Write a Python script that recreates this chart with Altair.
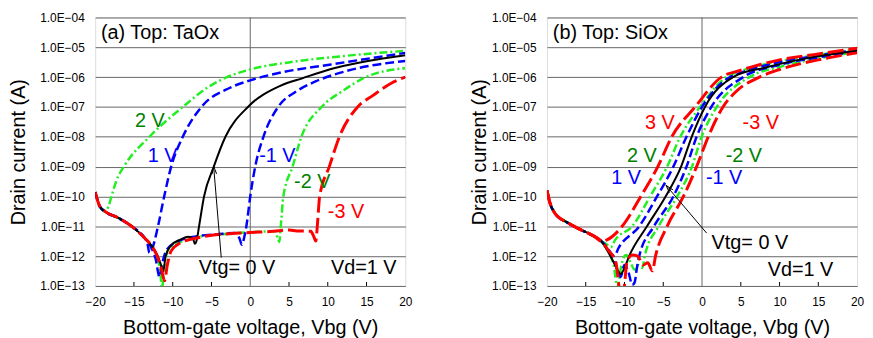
import altair as alt
import pandas as pd

# ---------------- Panel (a): Top TaOx  (Vbg in V, Id in A) ----------------
A_P2_V = [-20, -19.4, -18.7, -18.3, -17.9, -17.25, -16.3, -13.0, -8.7, -5.5, -3.0, 0, 6, 12.4, 20]
A_P2_I = [1.4e-10, 4.6e-11, 3.1e-11, 4.5e-11, 1.0e-10, 3.5e-10, 1e-9, 1e-8, 1e-7, 4.5e-7, 1e-6, 1.8e-6, 3.4e-6, 5.2e-6, 7.6e-6]

A_P1_V = [-20, -19.4, -18.7, -17, -15.3, -13.6, -13.3, -13.0, -12.55, -11.9, -11.1, -10.2, -8.7, -6.3, -2.6, 0, 3.8, 10.2, 20]
A_P1_I = [1.4e-10, 4.6e-11, 3.1e-11, 1.9e-11, 1.0e-11, 4.0e-12, 3e-12, 1.3e-12, 2.1e-12, 1e-11, 1e-10, 1e-9, 1e-8, 1e-7, 4.4e-7, 7.8e-7, 1.4e-6, 2.6e-6, 6.5e-6]

A_0_V = [-20, -19.4, -18.7, -17, -15.3, -13.6, -12.6, -12, -11.5, -11.25, -10.9, -10.2, -9, -8, -7.4, -7.15, -6.9, -6.6, -5.96, -4.7, -3.2, -0.3, 3.8, 6.8, 10.2, 15, 20]
A_0_I = [1.4e-10, 4.6e-11, 3.1e-11, 1.9e-11, 1.0e-11, 4.0e-12, 2e-12, 1.1e-12, 5e-13, 3e-13, 1e-12, 2.3e-12, 3.6e-12, 4.5e-12, 4e-12, 2.6e-12, 3.5e-12, 1e-11, 1e-10, 1e-9, 1e-8, 1e-7, 5e-7, 9.3e-7, 1.8e-6, 3.4e-6, 5.4e-6]

A_M1_V = [-20, -19.4, -18.7, -17, -15.3, -13.6, -12.8, -12.2, -11.7, -11.4, -10.8, -9.5, -7, -4, -2, -1.4, -1.07, -0.8, -0.5, 0, 0.64, 1.7, 3.6, 6, 8.5, 12.4, 20]
A_M1_I = [1.4e-10, 4.6e-11, 3.1e-11, 1.9e-11, 1.0e-11, 4.0e-12, 2e-12, 8e-13, 2e-13, 5e-13, 1.6e-12, 3e-12, 4.6e-12, 5.5e-12, 6e-12, 4e-12, 2.4e-12, 4e-12, 1e-11, 1e-10, 1e-9, 1e-8, 1e-7, 3.4e-7, 7.3e-7, 1.6e-6, 3.5e-6]

A_M2_V = [-20, -19.4, -18.7, -17, -15.3, -13.6, -12.6, -12, -11.6, -11.4, -11.1, -10.6, -9, -7, -4, 0, 3.2, 3.55, 3.75, 4.0, 4.27, 5.46, 6.6, 9.2, 11.9, 14.9, 20]
A_M2_I = [1.4e-10, 4.6e-11, 3.1e-11, 1.9e-11, 1.0e-11, 4.0e-12, 2e-12, 9e-13, 3e-13, 8e-14, 4e-13, 1.6e-12, 3e-12, 4.3e-12, 5.3e-12, 6.3e-12, 6.8e-12, 4e-12, 3e-12, 1.6e-11, 1e-10, 1e-9, 1e-8, 1e-7, 3.4e-7, 1e-6, 2e-6]

A_M3_V = [-20, -19.4, -18.7, -17, -15.3, -13.6, -12.6, -12, -11.5, -11.05, -10.7, -10.2, -9, -7, -5, -2, 0, 3, 5, 6, 7.8, 8.2, 8.45, 8.7, 8.95, 10.2, 11.5, 13.85, 15.8, 18.3, 20]
A_M3_I = [1.4e-10, 4.6e-11, 3.1e-11, 1.9e-11, 1.0e-11, 4.0e-12, 2e-12, 1e-12, 4e-13, 1.5e-13, 5e-13, 1.5e-12, 2.8e-12, 4e-12, 5e-12, 5.8e-12, 6.2e-12, 6.8e-12, 7.5e-12, 7e-12, 6.8e-12, 4.5e-12, 3.2e-12, 1.5e-11, 1e-10, 1e-9, 1e-8, 1e-7, 2.4e-7, 6.5e-7, 1e-6]

# ---------------- Panel (b): Top SiOx ----------------
B_COMMON_V = [-20, -19.6, -19, -17.3, -15.6, -13.9, -13.0]
B_COMMON_I = [1.6e-10, 5.9e-11, 2.8e-11, 1.3e-11, 7.6e-12, 4.6e-12, 3.2e-12]

B_P3_V = [-12.2, -10.3, -7.9, -5.7, -3.9, -0.9, 2.5, 5, 7.4, 10, 15, 20]
B_P3_I = [3.6e-12, 1e-11, 1e-10, 1e-9, 1e-8, 1e-7, 1e-6, 1.7e-6, 2.6e-6, 3.8e-6, 6e-6, 9.3e-6]

B_P2_V = [-12.4, -11.75, -11.2, -9.0, -6.7, -4.5, -2.8, -0.26, 3.1, 5, 10, 15, 20]
B_P2_I = [2.6e-12, 2e-12, 3.5e-12, 1e-11, 1e-10, 1e-9, 1e-8, 1e-7, 1e-6, 1.6e-6, 3.4e-6, 5.6e-6, 8.6e-6]

B_P1_V = [-12.3, -11.7, -11.3, -10.8, -8.1, -5.8, -3.7, -2.0, 0, 3.6, 5, 10, 15, 20]
B_P1_I = [2e-12, 1.2e-12, 1e-12, 1.8e-12, 1e-11, 1e-10, 1e-9, 1e-8, 1e-7, 1e-6, 1.4e-6, 3.2e-6, 5.3e-6, 8.2e-6]

B_0_V = [-12.2, -11.5, -10.9, -10.5, -10.1, -9.4, -7.1, -4.7, -2.7, -1.33, 0.38, 4.0, 8.2, 14, 20]
B_0_I = [1.5e-12, 7e-13, 3.5e-13, 2.5e-13, 3.5e-13, 1e-12, 1e-11, 1e-10, 1e-9, 1e-8, 1e-7, 1e-6, 2.1e-6, 4.5e-6, 7.6e-6]

B_M1_V = [-12.3, -11.6, -11.0, -10.5, -10.0, -9.5, -9.0, -8.7, -8.4, -8.1, -6.2, -3.7, -2.0, -0.7, 1.2, 5.3, 10, 15, 20]
B_M1_I = [2e-12, 1e-12, 4e-13, 2e-13, 5e-13, 3e-13, 1.1e-13, 1.3e-13, 4e-13, 1e-12, 1e-11, 1e-10, 1e-9, 1e-8, 1e-7, 1e-6, 2.6e-6, 4.6e-6, 7.3e-6]

B_M2_V = [-12.2, -11.4, -10.9, -10.4, -9.8, -9.2, -8.7, -8.2, -7.7, -7.4, -5.6, -3.2, -1.3, -0.05, 1.9, 6.1, 10, 15, 20]
B_M2_I = [1.6e-12, 5e-13, 9e-14, 5e-13, 1.1e-12, 6e-13, 3.5e-13, 5e-13, 4e-13, 1e-12, 1e-11, 1e-10, 1e-9, 1e-8, 1e-7, 1e-6, 2.2e-6, 4.2e-6, 7e-6]

B_M3_V = [-12.1, -11.1, -10.6, -10.1, -9.7, -9.0, -8.3, -7.6, -7.0, -6.4, -6.0, -4.5, -2.4, -0.7, 0.8, 2.7, 4.5, 7.4, 10, 15, 20]
B_M3_I = [1.6e-12, 6e-13, 8e-14, 8e-14, 6e-13, 1.1e-12, 1e-12, 5e-13, 6e-13, 3.2e-13, 1e-12, 1e-11, 1e-10, 1e-9, 1e-8, 1e-7, 3.5e-7, 1e-6, 1.8e-6, 3.8e-6, 6.5e-6]

# ---------------- annotations ----------------
A_LABEL_TEXT = ["2 V", "1 V", "-1 V", "-2 V", "-3 V", "Vtg= 0 V", "Vd=1 V"]
A_LABEL_COLOR = ["#008000", "#0000ff", "#0000ff", "#008000", "#ff0000", "#000000", "#000000"]
A_LABEL_V = [-12.95, -11.3, 3.5, 8.0, 12.35, -1.7, 14.65]
A_LABEL_I = [3.5e-8, 2.3e-9, 2.3e-9, 3.0e-10, 3.0e-11, 3.9e-13, 3.9e-13]

B_LABEL_TEXT = ["3 V", "-3 V", "2 V", "-2 V", "1 V", "-1 V", "Vtg= 0 V", "Vd=1 V"]
B_LABEL_COLOR = ["#ff0000", "#ff0000", "#008000", "#008000", "#0000ff", "#0000ff", "#000000", "#000000"]
B_LABEL_V = [-5.45, 7.57, -7.75, 5.4, -9.8, 2.85, 6.17, 12.7]
B_LABEL_I = [2.95e-8, 2.95e-8, 2.3e-9, 2.3e-9, 4.0e-10, 4.0e-10, 2.8e-12, 3.5e-13]

PANEL_TITLES = ["(a) Top: TaOx", "(b) Top: SiOx"]
PANEL_TITLE_V = [-19.25, -19.25]
PANEL_TITLE_I = [3.1e-5, 3.1e-5]

# arrows: tail (V, I) -> head (V2, I2)
A_ARROW = [-3.74, 8.9e-13, -4.68, 7.6e-10]
B_ARROW = [0.6, 5.9e-12, -4.3, 1.86e-10]

X_TICKS = [-20, -15, -10, -5, 0, 5, 10, 15, 20]
X_INNER_TICKS = [-15, -10, -5, 5, 10, 15]
Y_TICKS = [1e-13, 1e-12, 1e-11, 1e-10, 1e-9, 1e-8, 1e-7, 1e-6, 1e-5, 1e-4]

STYLE = {
    "green": dict(color="#22ee22", strokeDash=[8, 3, 2, 3], strokeWidth=2.5),
    "blue": dict(color="#0000ff", strokeDash=[9, 4], strokeWidth=2.5),
    "black": dict(color="#000000", strokeWidth=2),
    "red": dict(color="#ff0000", strokeDash=[16, 5], strokeWidth=3),
}

curves = {
    "a": [("p2", "green", A_P2_V, A_P2_I), ("p1", "blue", A_P1_V, A_P1_I),
          ("z", "black", A_0_V, A_0_I), ("m1", "blue", A_M1_V, A_M1_I),
          ("m2", "green", A_M2_V, A_M2_I), ("m3", "red", A_M3_V, A_M3_I)],
    "b": [("p3", "red", B_COMMON_V + B_P3_V, B_COMMON_I + B_P3_I),
          ("p2", "green", B_COMMON_V + B_P2_V, B_COMMON_I + B_P2_I),
          ("p1", "blue", B_COMMON_V + B_P1_V, B_COMMON_I + B_P1_I),
          ("z", "black", B_COMMON_V + B_0_V, B_COMMON_I + B_0_I),
          ("m1", "blue", B_COMMON_V + B_M1_V, B_COMMON_I + B_M1_I),
          ("m2", "green", B_COMMON_V + B_M2_V, B_COMMON_I + B_M2_I),
          ("m3", "red", B_COMMON_V + B_M3_V, B_COMMON_I + B_M3_I)],
}

rows = []
for pid, lst in curves.items():
    for name, style, vs, cs in lst:
        for k, (v, c) in enumerate(zip(vs, cs)):
            rows.append(dict(panel=pid, series=name, style=style, V=v, I=c, idx=k))
df = pd.DataFrame(rows)

W, H = 313, 271

xscale = alt.Scale(domain=[-20, 20], nice=False, zero=False)
yscale = alt.Scale(type="log", domain=[1e-13, 1e-4], nice=False)

xaxis = alt.Axis(values=X_TICKS, format="d", grid=False, ticks=False, domain=False,
                 labelFontSize=12, labelFont="Liberation Sans", labelColor="black",
                 labelPadding=11, labelFlush=False, labelOverlap=False,
                 title="Bottom-gate voltage, Vbg (V)", titleFont="Liberation Sans",
                 titleFontSize=20, titleFontWeight="normal", titleColor="black",
                 titleY=48, titleBaseline="alphabetic")


def yaxis(tx):
    return alt.Axis(values=Y_TICKS, grid=True, gridColor="#666666", gridWidth=1,
                    ticks=False, domain=False, labelFontSize=12, labelFont="Liberation Sans",
                    labelColor="black", labelPadding=11, labelFlush=False, labelOverlap=False,
                    labelExpr="'1.0E\u2212' + format(-round(log(datum.value)/LN10), '02d')",
                    title="Drain current (A)", titleFont="Liberation Sans", titleFontSize=20,
                    titleFontWeight="normal", titleColor="black", titleX=tx, titleY=H / 2,
                    titleBaseline="middle", titleAngle=270)


def panel(pid, tx, labels, arrow, arrow_angle, title_i):
    X = alt.X("V:Q", scale=xscale, axis=xaxis)
    Y = alt.Y("I:Q", scale=yscale, axis=yaxis(tx))
    layers = []
    zero = alt.Chart(pd.DataFrame({"V": [0]})).mark_rule(color="#666666", strokeWidth=1).encode(x=X)
    layers.append(zero)
    ticks = alt.Chart(pd.DataFrame({"V": X_INNER_TICKS})).mark_rule(color="black", strokeWidth=1).encode(
        x=X, y=alt.value(H - 4), y2=alt.value(H))
    layers.append(ticks)
    d = df[df.panel == pid]
    for style in ["green", "blue", "black", "red"]:
        sub = d[d["style"] == style]
        layers.append(alt.Chart(sub).mark_line(clip=True, interpolate="monotone", **STYLE[style]).encode(
            x=X, y=Y, detail="series:N", order="idx:Q"))
    lab = pd.DataFrame({"V": labels[2], "I": labels[3], "text": labels[0], "color": labels[1]})
    layers.append(alt.Chart(lab).mark_text(font="Liberation Sans", fontSize=20, baseline="middle",
                                           align="center").encode(
        x=X, y=Y, text="text:N", color=alt.Color("color:N", scale=None)))
    ttl = pd.DataFrame({"V": [PANEL_TITLE_V[title_i]], "I": [PANEL_TITLE_I[title_i]],
                        "text": [PANEL_TITLES[title_i]]})
    layers.append(alt.Chart(ttl).mark_text(font="Liberation Sans", fontSize=20, baseline="middle",
                                           align="left", color="black").encode(x=X, y=Y, text="text:N"))
    arr = pd.DataFrame({"V": [arrow[0]], "I": [arrow[1]], "V2": [arrow[2]], "I2": [arrow[3]]})
    layers.append(alt.Chart(arr).mark_rule(color="black", strokeWidth=1).encode(
        x=X, y=Y, x2="V2:Q", y2="I2:Q"))
    head = pd.DataFrame({"V": [arrow[2]], "I": [arrow[3]]})
    layers.append(alt.Chart(head).mark_point(shape="M-0.6,1L0,-1L0.6,1", filled=False, color="black",
                                             strokeWidth=1, size=60, angle=arrow_angle, opacity=1).encode(
        x=X, y=Y))
    return alt.layer(*layers).properties(width=W, height=H)


pa = panel("a", -77.5, (A_LABEL_TEXT, A_LABEL_COLOR, A_LABEL_V, A_LABEL_I), A_ARROW, 355, 0)
pb = panel("b", -68, (B_LABEL_TEXT, B_LABEL_COLOR, B_LABEL_V, B_LABEL_I), B_ARROW, 320, 1)

chart = alt.hconcat(pa, pb, spacing=143, bounds="flush").properties(
    padding={"left": 0, "top": 1, "right": 0, "bottom": 0}
).configure_view(stroke="black", strokeWidth=1).configure(font="Liberation Sans")

chart.save("out.html", embed_options={"renderer": "svg", "actions": False})
